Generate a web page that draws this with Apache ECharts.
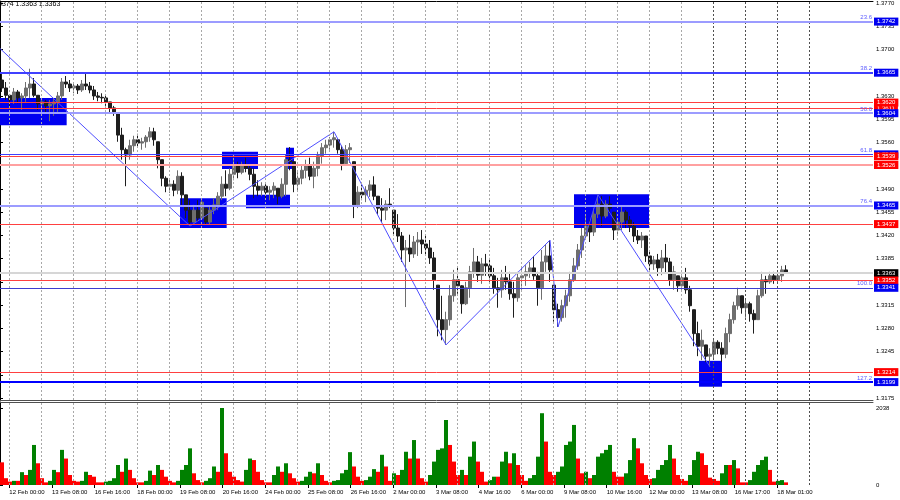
<!DOCTYPE html>
<html><head><meta charset="utf-8">
<script src="https://cdn.jsdelivr.net/npm/echarts@6/dist/echarts.min.js"></script>
<style>html,body{margin:0;padding:0;background:#fff}#c{width:900px;height:500px}</style>
</head><body><div id="c"></div>
<script>
// ---------------- DATA ----------------
const headerText = '3374 1.3363 1.3363';
// 3-hour bars [open, close, low, high], first bar starts at 11 Feb 17:00
const priceBars = [
[1.3654,1.3642,1.3636,1.3666],[1.3642,1.3631,1.3624,1.3651],[1.3631,1.3624,1.3612,1.3631],[1.3624,1.3636,1.3618,1.3642],[1.3636,1.3627,1.3619,1.3639],
[1.3627,1.3630,1.3609,1.3634],[1.3630,1.3642,1.3621,1.3651],[1.3642,1.3648,1.3627,1.3671],[1.3648,1.3631,1.3628,1.3657],[1.3631,1.3618,1.3609,1.3631],
[1.3618,1.3621,1.3609,1.3627],[1.3621,1.3615,1.3606,1.3624],[1.3615,1.3618,1.3592,1.3624],[1.3618,1.3621,1.3600,1.3627],[1.3621,1.3630,1.3606,1.3636],
[1.3630,1.3651,1.3624,1.3657],[1.3651,1.3648,1.3642,1.3660],[1.3648,1.3642,1.3636,1.3654],[1.3642,1.3645,1.3634,1.3651],[1.3645,1.3639,1.3633,1.3648],
[1.3639,1.3648,1.3636,1.3654],[1.3648,1.3645,1.3639,1.3663],[1.3645,1.3639,1.3634,1.3651],[1.3639,1.3630,1.3624,1.3645],[1.3630,1.3628,1.3622,1.3636],
[1.3628,1.3627,1.3619,1.3634],[1.3627,1.3621,1.3615,1.3631],[1.3621,1.3612,1.3604,1.3621],[1.3612,1.3606,1.3600,1.3615],[1.3603,1.3571,1.3561,1.3603],
[1.3571,1.3549,1.3534,1.3582],[1.3549,1.3541,1.3494,1.3552],[1.3541,1.3555,1.3534,1.3564],[1.3555,1.3564,1.3546,1.3570],[1.3564,1.3559,1.3552,1.3573],
[1.3559,1.3561,1.3549,1.3567],[1.3561,1.3568,1.3552,1.3571],[1.3568,1.3576,1.3561,1.3583],[1.3576,1.3564,1.3555,1.3582],[1.3561,1.3534,1.3521,1.3561],
[1.3534,1.3506,1.3494,1.3534],[1.3506,1.3494,1.3485,1.3509],[1.3494,1.3497,1.3484,1.3506],[1.3497,1.3488,1.3479,1.3503],[1.3488,1.3509,1.3482,1.3518],
[1.3509,1.3481,1.3466,1.3515],[1.3481,1.3458,1.3446,1.3481],[1.3458,1.3440,1.3434,1.3473],[1.3440,1.3458,1.3440,1.3466],[1.3458,1.3446,1.3440,1.3473],
[1.3446,1.3470,1.3446,1.3476],[1.3461,1.3440,1.3436,1.3461],[1.3440,1.3458,1.3437,1.3464],[1.3458,1.3466,1.3452,1.3476],[1.3466,1.3479,1.3458,1.3485],
[1.3479,1.3497,1.3473,1.3509],[1.3497,1.3491,1.3479,1.3518],[1.3491,1.3512,1.3488,1.3521],[1.3512,1.3525,1.3503,1.3537],[1.3525,1.3515,1.3506,1.3531],
[1.3515,1.3525,1.3512,1.3531],[1.3525,1.3521,1.3515,1.3537],[1.3521,1.3512,1.3503,1.3525],[1.3512,1.3494,1.3476,1.3521],[1.3494,1.3488,1.3479,1.3503],
[1.3488,1.3494,1.3479,1.3500],[1.3494,1.3485,1.3476,1.3497],[1.3485,1.3488,1.3473,1.3494],[1.3488,1.3494,1.3476,1.3500],[1.3491,1.3479,1.3467,1.3491],
[1.3479,1.3497,1.3476,1.3506],[1.3497,1.3534,1.3479,1.3541],[1.3534,1.3531,1.3518,1.3553],[1.3531,1.3497,1.3485,1.3531],[1.3497,1.3506,1.3488,1.3515],
[1.3506,1.3518,1.3497,1.3526],[1.3518,1.3526,1.3506,1.3534],[1.3526,1.3509,1.3503,1.3537],[1.3509,1.3521,1.3491,1.3531],[1.3521,1.3540,1.3509,1.3546],
[1.3540,1.3552,1.3528,1.3559],[1.3552,1.3556,1.3543,1.3564],[1.3556,1.3564,1.3549,1.3568],[1.3564,1.3567,1.3552,1.3576],[1.3564,1.3549,1.3543,1.3564],
[1.3549,1.3528,1.3518,1.3555],[1.3528,1.3549,1.3526,1.3556],[1.3549,1.3552,1.3529,1.3559],[1.3531,1.3466,1.3446,1.3531],[1.3466,1.3485,1.3461,1.3494],
[1.3485,1.3481,1.3473,1.3496],[1.3481,1.3488,1.3470,1.3494],[1.3488,1.3496,1.3478,1.3503],[1.3496,1.3479,1.3473,1.3509],[1.3479,1.3461,1.3452,1.3479],
[1.3461,1.3458,1.3440,1.3476],[1.3458,1.3467,1.3443,1.3473],[1.3467,1.3466,1.3461,1.3491],[1.3458,1.3431,1.3422,1.3458],[1.3431,1.3419,1.3410,1.3452],
[1.3419,1.3398,1.3380,1.3425],[1.3398,1.3401,1.3312,1.3413],[1.3401,1.3392,1.3380,1.3421],[1.3392,1.3410,1.3386,1.3419],[1.3410,1.3413,1.3389,1.3425],
[1.3413,1.3407,1.3392,1.3428],[1.3407,1.3401,1.3389,1.3422],[1.3401,1.3386,1.3377,1.3413],[1.3386,1.3353,1.3338,1.3395],[1.3345,1.3293,1.3268,1.3345],
[1.3293,1.3278,1.3262,1.3329],[1.3278,1.3293,1.3255,1.3305],[1.3293,1.3329,1.3284,1.3345],[1.3329,1.3353,1.3320,1.3368],[1.3353,1.3344,1.3332,1.3371],
[1.3344,1.3317,1.3302,1.3345],[1.3317,1.3341,1.3315,1.3350],[1.3341,1.3365,1.3326,1.3374],[1.3365,1.3380,1.3356,1.3401],[1.3380,1.3360,1.3350,1.3389],
[1.3360,1.3377,1.3347,1.3386],[1.3377,1.3374,1.3359,1.3392],[1.3374,1.3359,1.3350,1.3386],[1.3359,1.3341,1.3332,1.3371],[1.3341,1.3338,1.3311,1.3356],
[1.3338,1.3356,1.3326,1.3368],[1.3356,1.3350,1.3338,1.3374],[1.3350,1.3332,1.3323,1.3365],[1.3332,1.3326,1.3296,1.3350],[1.3326,1.3356,1.3320,1.3365],
[1.3356,1.3359,1.3338,1.3371],[1.3359,1.3365,1.3344,1.3375],[1.3365,1.3371,1.3356,1.3380],[1.3371,1.3359,1.3353,1.3389],[1.3359,1.3341,1.3314,1.3365],
[1.3341,1.3380,1.3323,1.3398],[1.3380,1.3389,1.3365,1.3407],[1.3389,1.3368,1.3350,1.3413],[1.3345,1.3308,1.3290,1.3345],[1.3308,1.3296,1.3282,1.3317],
[1.3296,1.3314,1.3290,1.3323],[1.3314,1.3329,1.3296,1.3338],[1.3329,1.3353,1.3320,1.3365],[1.3353,1.3374,1.3350,1.3386],[1.3374,1.3398,1.3368,1.3407],
[1.3398,1.3419,1.3386,1.3431],[1.3419,1.3434,1.3413,1.3449],[1.3434,1.3425,1.3410,1.3443],[1.3425,1.3452,1.3419,1.3461],[1.3452,1.3467,1.3446,1.3481],
[1.3467,1.3449,1.3434,1.3479],[1.3449,1.3467,1.3446,1.3473],[1.3467,1.3461,1.3452,1.3479],[1.3455,1.3428,1.3413,1.3455],[1.3428,1.3440,1.3419,1.3446],
[1.3440,1.3455,1.3428,1.3464],[1.3455,1.3443,1.3431,1.3458],[1.3443,1.3434,1.3425,1.3449],[1.3434,1.3419,1.3410,1.3440],[1.3419,1.3413,1.3407,1.3428],
[1.3413,1.3419,1.3401,1.3425],[1.3419,1.3389,1.3380,1.3419],[1.3389,1.3377,1.3365,1.3395],[1.3377,1.3383,1.3368,1.3389],[1.3383,1.3371,1.3359,1.3392],
[1.3371,1.3386,1.3360,1.3398],[1.3386,1.3380,1.3362,1.3407],[1.3380,1.3353,1.3344,1.3386],[1.3353,1.3365,1.3338,1.3374],[1.3359,1.3344,1.3335,1.3359],
[1.3344,1.3356,1.3338,1.3365],[1.3356,1.3338,1.3332,1.3371],[1.3338,1.3314,1.3305,1.3344],[1.3308,1.3272,1.3253,1.3308],[1.3272,1.3253,1.3238,1.3290],
[1.3253,1.3262,1.3232,1.3278],[1.3255,1.3238,1.3229,1.3255],[1.3238,1.3241,1.3222,1.3250],[1.3241,1.3259,1.3235,1.3265],[1.3259,1.3250,1.3241,1.3262],
[1.3250,1.3241,1.3229,1.3259],[1.3241,1.3272,1.3235,1.3281],[1.3272,1.3293,1.3259,1.3302],[1.3293,1.3314,1.3287,1.3320],[1.3314,1.3329,1.3308,1.3341],
[1.3329,1.3311,1.3302,1.3329],[1.3311,1.3317,1.3296,1.3323],[1.3317,1.3302,1.3290,1.3320],[1.3302,1.3293,1.3272,1.3308],[1.3293,1.3329,1.3293,1.3338],
[1.3329,1.3353,1.3326,1.3365],[1.3353,1.3350,1.3332,1.3359],[1.3350,1.3359,1.3347,1.3365],[1.3359,1.3353,1.3347,1.3365],[1.3353,1.3359,1.3347,1.3363],
[1.3359,1.3368,1.3350,1.3374],[1.3368,1.3363,1.3362,1.3375]
];
const volumes = [
600,180,90,110,110,340,265,400,1060,575,
180,70,110,400,340,930,700,265,110,90,
110,350,265,220,70,70,90,110,180,530,
350,700,400,180,70,70,110,380,265,530,
400,220,110,70,110,400,530,970,310,130,
70,110,180,490,350,2038,840,350,220,130,
90,400,700,660,350,130,70,70,265,490,
350,575,310,180,90,110,220,350,310,575,
265,110,70,110,130,310,400,870,490,220,
110,130,220,420,350,800,490,110,310,265,
400,880,700,1190,700,180,90,265,620,930,
970,1720,1060,620,265,400,265,750,1150,620,
350,90,130,220,220,620,880,575,840,530,
265,110,180,265,750,1900,1150,350,265,350,
490,1060,1150,1590,700,310,350,180,265,750,
840,930,1060,350,220,220,310,660,1240,970,
575,265,160,180,400,530,660,1060,700,265,
160,110,265,660,880,840,530,195,160,110,
310,530,530,660,440,70,70,130,350,530,
660,750,400,90,110,130,70
];
const priceTicks = [1.3770,1.3735,1.3700,1.3665,1.3630,1.3595,1.3560,1.3525,1.3490,1.3455,1.3420,1.3385,1.3350,1.3315,1.3280,1.3245,1.3210,1.3175];
const volumeTicks = [0, 2038];
const timeLabels = ['12 Feb 00:00','13 Feb 08:00','16 Feb 16:00','18 Feb 00:00','19 Feb 08:00','20 Feb 16:00','24 Feb 00:00','25 Feb 08:00','26 Feb 16:00','2 Mar 00:00','3 Mar 08:00','4 Mar 16:00','6 Mar 00:00','9 Mar 08:00','10 Mar 16:00','12 Mar 00:00','13 Mar 08:00','16 Mar 17:00','18 Mar 01:00'];
const fibRatios = ['23.6','38.2','50.0','61.8','76.4','100.0','127.2'];
const fibPrices = [1.3742,1.3665,1.3604,1.3542,1.3465,1.3341,1.3199];
const srLevels = [1.3620,1.3611,1.3539,1.3526,1.3437,1.3352,1.3214];
const bidPrice = 1.3363;
// zigzag pivots: hour offsets from first bar, price
const zigzagHours  = [-12, 142.5, 250.5, 334.5, 412.5, 418.5, 448.5, 532.5];
const zigzagPrices = [1.3724, 1.3434, 1.3576, 1.3255, 1.3413, 1.3282, 1.3481, 1.3222];
// rectangles: [hourFrom, hourTo], [priceTop, priceBottom]
const boxHours  = [[0,50],[135,170],[166.5,193.5],[184.5,217.5],[214.5,220.5],[430.5,486.75],[524.25,541.5]];
const boxPrices = [[1.3627,1.3586],[1.3476,1.3431],[1.3546,1.3520],[1.3481,1.3461],[1.3552,1.3520],[1.3482,1.3431],[1.3231,1.3192]];

// ---------------- LAYOUT / STYLE ----------------
const FONT = "'Liberation Sans', Arial, sans-serif";
const HOURS_PER_BAR = 3;
const X_MAX = 654.75;
const FIRST_LABEL_HOUR = 7, LABEL_STEP = 32, DAY_STEP = 24, DAY_LINES = 26;
const labelHours = timeLabels.map((_, k) => FIRST_LABEL_HOUR + LABEL_STEP * k);
const dayHours = Array.from({length: DAY_LINES}, (_, k) => FIRST_LABEL_HOUR + DAY_STEP * k);

const fibStyles = [
  {color:'#9c9cff', width:2}, {color:'#4040ff', width:2}, {color:'#9c9cff', width:2},
  {color:'#4040ff', width:1}, {color:'#9c9cff', width:2}, {color:'#3c3cd0', width:1}, {color:'#0000ff', width:2}
];
const srStyle = p => (p === 1.3526 ? {color:'#ffa0a0', width:2} : {color:'#ff4040', width:1});

function boxLabel(price, bg) {
  return {show:true, position:'end', distance:1, formatter: price.toFixed(4), backgroundColor:bg,
          color:'#fff', padding:[1,3,0,3], fontSize:6, fontFamily:FONT, lineHeight:7};
}
const levelItems = [];
// fib ratio texts first (drawn under the price boxes)
fibRatios.forEach((r, i) => levelItems.push({
  yAxis: fibPrices[i], lineStyle: Object.assign({type:'solid'}, fibStyles[i]),
  label:{show:true, position:'insideEndTop', distance:[1,1], formatter:r, color:'#5c5cff', fontSize:6, fontFamily:FONT}
}));
const fibItem = i => ({yAxis: fibPrices[i], lineStyle: Object.assign({type:'solid'}, fibStyles[i]), label: boxLabel(fibPrices[i], '#0000f0')});
const srItem = i => ({yAxis: srLevels[i], lineStyle: Object.assign({type:'solid'}, srStyle(srLevels[i])), label: boxLabel(srLevels[i], '#ff0000')});
levelItems.push(fibItem(0), fibItem(1), srItem(1), srItem(0), fibItem(2), fibItem(3), srItem(2), srItem(3), fibItem(4), srItem(4));
levelItems.push({yAxis: bidPrice, lineStyle:{color:'#d6d6d6', width:2, type:'solid'}, label: boxLabel(bidPrice, '#000000')});
levelItems.push(srItem(5), fibItem(5), srItem(6), fibItem(6));

const dayLineItems = dayHours.map(h => ({xAxis:h, lineStyle:{color: h > 520 ? '#505050' : '#a8a8a8', type:[2,2], width:1}}));

const candleData = priceBars.map((b, j) => [HOURS_PER_BAR * j + HOURS_PER_BAR / 2, b[0], b[1], b[2], b[3]]);
const volData = volumes.map((v, j) => ({
  value: [HOURS_PER_BAR * j + HOURS_PER_BAR / 2, v],
  itemStyle: {color: (j > 0 && v > volumes[j - 1]) ? '#008000' : '#ff0000'}
}));
const zigzagData = zigzagHours.map((h, i) => [h, zigzagPrices[i]]);
const boxData = boxHours.map((h, i) => [{coord:[h[0], boxPrices[i][0]]}, {coord:[h[1], boxPrices[i][1]]}]);

const chart = echarts.init(document.getElementById('c'), null, {renderer:'canvas'});
const xBase = {type:'value', min:0, max:X_MAX, axisLabel:{show:false}, axisTick:{show:false}, splitLine:{show:false}};
chart.setOption({
  animation:false,
  backgroundColor:'#ffffff',
  textStyle:{fontFamily:FONT},
  title:{text:headerText, left:-2, top:1, padding:0, textStyle:{fontSize:7, fontWeight:'normal', color:'#000', fontFamily:FONT}},
  grid:[
    {left:0, right:27, top:1, height:399},
    {left:0, right:27, top:402, height:83}
  ],
  xAxis:[
    Object.assign({}, xBase, {gridIndex:0, position:'bottom', axisLine:{show:true, onZero:false, lineStyle:{color:'#505050'}}}),
    Object.assign({}, xBase, {gridIndex:0, position:'top', axisLine:{show:true, onZero:false, lineStyle:{color:'#000'}}}),
    Object.assign({}, xBase, {gridIndex:1, position:'bottom', axisLine:{show:false, onZero:false},
      axisTick:{show:true, customValues:labelHours, length:3, lineStyle:{color:'#000'}},
      axisLabel:{show:true, customValues:labelHours, align:'left', margin:4, fontSize:6, color:'#000', fontFamily:FONT,
        formatter: v => timeLabels[Math.round((v - FIRST_LABEL_HOUR) / LABEL_STEP)] || ''}}),
    Object.assign({}, xBase, {gridIndex:1, position:'top', axisLine:{show:true, onZero:false, lineStyle:{color:'#505050'}}})
  ],
  yAxis:[
    {type:'value', gridIndex:0, position:'right', min:1.31720, max:1.37730, splitLine:{show:false},
     axisLine:{show:true, lineStyle:{color:'#000'}},
     axisTick:{show:true, customValues:priceTicks, length:3, lineStyle:{color:'#000'}},
     axisLabel:{customValues:priceTicks, formatter:v => v.toFixed(4), fontSize:6, margin:3, color:'#000', fontFamily:FONT}},
    {type:'value', gridIndex:1, position:'right', min:0, max:2197, splitLine:{show:false},
     axisLine:{show:true, lineStyle:{color:'#000'}},
     axisTick:{show:true, customValues:volumeTicks, length:3, lineStyle:{color:'#000'}},
     axisLabel:{customValues:volumeTicks, formatter:v => String(v), fontSize:6, margin:3, color:'#000', fontFamily:FONT}}
  ],
  series:[
    {type:'line', xAxisIndex:0, yAxisIndex:0, data:[], z:0, silent:true,
     markLine:{symbol:['none','none'], precision:4, silent:true, label:{show:false}, data:dayLineItems}},
    {type:'line', xAxisIndex:0, yAxisIndex:0, data:[], z:1, silent:true,
     markArea:{silent:true, itemStyle:{color:'#0000f0', opacity:1}, data:boxData}},
    {type:'candlestick', xAxisIndex:0, yAxisIndex:0, z:2, data:candleData, encode:{x:0, y:[1,2,3,4]},
     barWidth:3, clip:true,
     itemStyle:{color:'#6e6e6e', color0:'#1e1e1e', borderColor:'#6e6e6e', borderColor0:'#1e1e1e', borderWidth:1}},
    {type:'line', xAxisIndex:0, yAxisIndex:0, z:3, data:zigzagData, symbol:'none', clip:true,
     lineStyle:{color:'#4f4fff', width:1},
     markLine:{symbol:['none','none'], precision:4, silent:true, data:levelItems}},
    {type:'line', xAxisIndex:2, yAxisIndex:1, data:[], z:0, silent:true,
     markLine:{symbol:['none','none'], precision:4, silent:true, label:{show:false}, data:dayLineItems}},
    {type:'bar', xAxisIndex:2, yAxisIndex:1, z:2, data:volData, barWidth:4}
  ]
});
</script>
</body></html>
